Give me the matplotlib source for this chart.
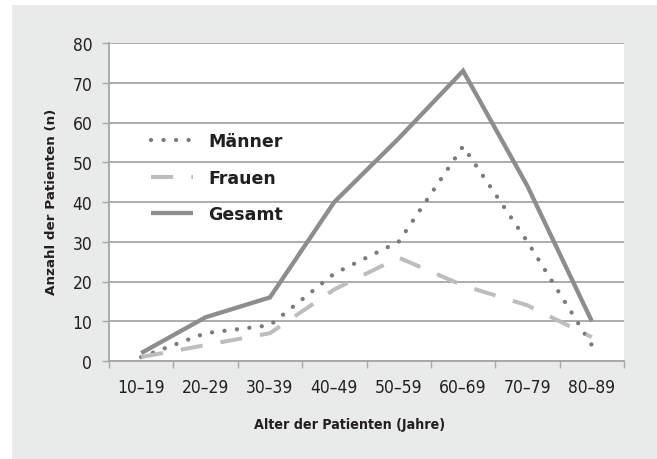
import numpy as np
import matplotlib
matplotlib.use("Agg")
import matplotlib.pyplot as plt
from matplotlib.patches import Rectangle
from matplotlib.font_manager import FontProperties

# data
age_groups = ["10–19", "20–29", "30–39", "40–49", "50–59", "60–69", "70–79", "80–89"]
maenner = [1, 7, 9, 22, 30, 54, 30, 4]
frauen = [1, 4, 7, 18, 26, 19, 14, 6]
gesamt = [2, 11, 16, 40, 56, 73, 44, 10]
y_ticks = [0, 10, 20, 30, 40, 50, 60, 70, 80]

BG = "#e9eaea"
GRID = "#a6a6a6"
TXT = "#231f20"

fig = plt.figure(figsize=(6.57, 4.6), dpi=100)
fig.patch.set_facecolor("white")
# grey panel behind the chart
fig.patches.append(Rectangle((12 / 657, 0), 1, 454 / 460, transform=fig.transFigure,
                             facecolor=BG, edgecolor="none", zorder=-10))

ax = fig.add_axes([109 / 657, 98 / 460, 515 / 657, 318 / 460])
ax.set_facecolor("white")

x = np.arange(len(age_groups)) + 0.5

ax.plot(x, maenner, color="#7b7b7d", lw=3.1, linestyle=(0, (0.01, 2.9)),
        dash_capstyle="round", label="Männer", zorder=3)
ax.plot(x, frauen, color="#bdbdbe", lw=2.9, linestyle=(0, (5.5, 4.5)),
        dash_capstyle="butt", label="Frauen", zorder=3)
ax.plot(x, gesamt, color="#8d8d8f", lw=3.1, solid_joinstyle="miter",
        solid_capstyle="butt", label="Gesamt", zorder=4)

ax.set_xlim(0, len(age_groups))
ax.set_ylim(0, 80)
ax.set_yticks(y_ticks)
ax.set_xticks(np.arange(len(age_groups) + 1))
ax.set_xticklabels([])
ax.set_xticks(x, minor=True)
ax.set_xticklabels(age_groups, minor=True)
ax.tick_params(axis="x", which="minor", length=0, pad=12)
ax.tick_params(axis="x", which="major", length=5, color=GRID, width=1)
ax.tick_params(axis="y", length=5, color=GRID, width=1, pad=7)

tick_fp = FontProperties(family="DejaVu Sans", stretch="condensed", size=12.5)
for lab in ax.get_xticklabels(minor=True) + ax.get_yticklabels():
    lab.set_fontproperties(tick_fp)
    lab.set_color(TXT)

ax.grid(axis="y", color=GRID, lw=1.3, zorder=0)
ax.set_axisbelow(True)
for side in ["top", "right"]:
    ax.spines[side].set_visible(False)
for side in ["left", "bottom"]:
    ax.spines[side].set_color(GRID)
    ax.spines[side].set_linewidth(1.3)

fig.text(350 / 657, 1 - 425 / 460, "Alter der Patienten (Jahre)", ha="center", va="center",
         fontproperties=FontProperties(family="DejaVu Sans", stretch="condensed",
                                       weight="bold", size=10.2), color=TXT)
fig.text(52 / 657, 1 - 202 / 460, "Anzahl der Patienten (n)", ha="center", va="center",
         rotation=90, family="DejaVu Sans", weight="bold", size=9.7, color=TXT)

leg = ax.legend(loc="upper left", bbox_to_anchor=(0.051, 0.769), frameon=False,
                handlelength=2.4, handletextpad=0.9, labelspacing=1.07,
                prop=dict(family="DejaVu Sans", weight="bold", size=12.5))
for t in leg.get_texts():
    t.set_color(TXT)

fig.savefig("out.png", dpi=100)
